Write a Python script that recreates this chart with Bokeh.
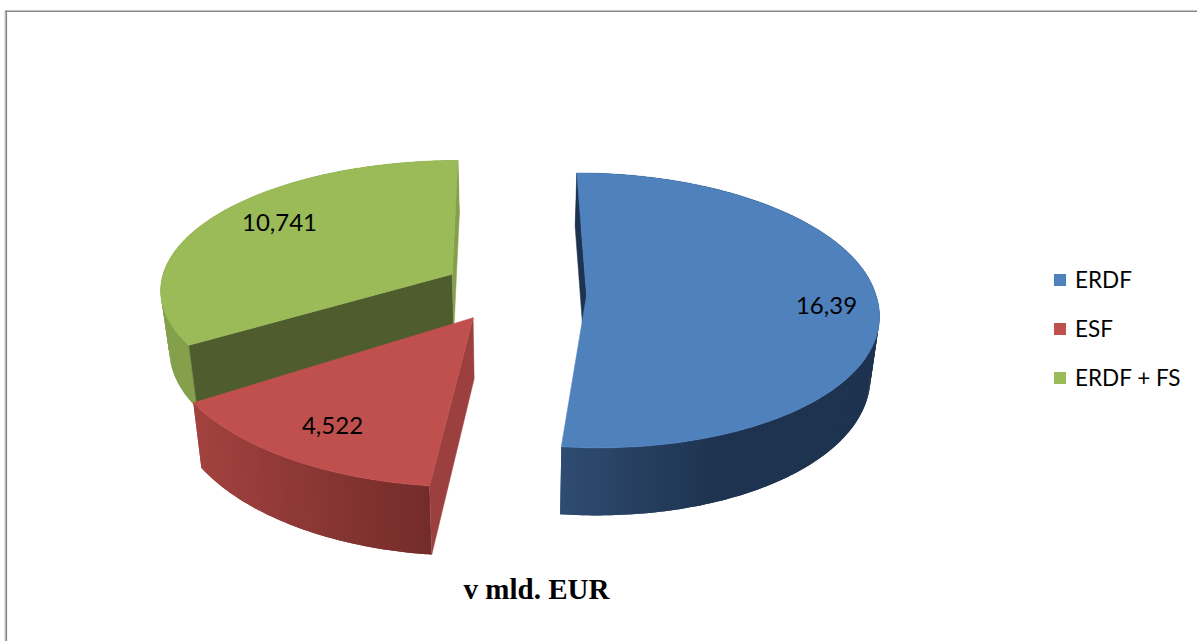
import numpy as np
from bokeh.plotting import figure
from bokeh.models import Range1d, Legend, LegendItem
from bokeh.core.properties import value
from bokeh.embed import file_html
from bokeh.resources import INLINE

# ---- data ----
categories = ["ERDF", "ESF", "ERDF + FS"]
values = [16.39, 4.522, 10.741]
value_labels = ["16,39", "4,522", "10,741"]
title_text = "v mld. EUR"

# ---- styling ----
top_colors = ["#4f81bd", "#c0504d", "#9bbb59"]
rim_left = [(47, 76, 114), (162, 66, 63), (132, 160, 75)]
rim_right = [(30, 51, 79), (115, 44, 42), (132, 160, 75)]
rim_span = [(560, 720), (195, 430), (160, 200)]
start_wall = ["#1e334f", "#9b403e", "#4f5d2e"]
end_wall = [None, None, "#84a04b"]

# projection
CX, CY, R, TILT, K, H = 514.0, 292.0, 295.0, 0.459, 0.11, 60.0
CONVERGE = 0.025
EXPLODE = 0.234
DV = [0.0, 0.03, 0.055]
OFF_X = [0, -4, -3]
OFF_Y = [1, 2, 4]
SCALE_X = [0.99, 1.025, 0.998]
SCALE_Y = [1.0, 1.07, 0.965]
FRONT_SHEAR = [0.04, 0.0, 0.0]
APEX_NUDGE = [3, 0, 0]
label_x = [826, 332, 279]
label_y = [305, 425, 222]


total = sum(values)
fracs = np.array(values) / total
ends = np.cumsum(fracs) * 2 * np.pi
starts = ends - fracs * 2 * np.pi

p = figure(width=1197, height=641, x_range=Range1d(0, 1197), y_range=Range1d(641, 0),
           toolbar_location=None, output_backend="svg", min_border=0,
           outline_line_color=None, background_fill_color="white", border_fill_color="white")
p.styles = {"position": "absolute", "left": "0px", "top": "0px"}
p.xaxis.visible = False
p.yaxis.visible = False
p.grid.visible = False

# chart border
p.segment([4.5], [10], [4.5], [641], line_color="#cfcfcf", line_width=1)
p.segment([5.8], [10], [5.8], [641], line_color="#868686", line_width=1.6)
p.segment([5], [10.8], [1197], [10.8], line_color="#868686", line_width=1.6)

top_renderers = {}
for i in [2, 1, 0]:
    a0, a1 = starts[i], ends[i]
    mid = (a0 + a1) / 2
    au = EXPLODE * np.sin(mid)
    av = EXPLODE * np.cos(mid) + DV[i]
    ang = np.linspace(a0, a1, int(np.degrees(a1 - a0)) + 2)
    ou, ov = au + np.sin(ang), av + np.cos(ang)

    s0 = 1.0 / (1.0 + K * av)
    ax0 = CX + R * au * s0
    ay0 = CY - R * TILT * av * s0

    def proj(u, v, z=0.0):
        u, v = np.asarray(u, float), np.asarray(v, float)
        s = 1.0 / (1.0 + K * v)
        x = CX + R * u * s
        y = CY - R * TILT * v * s
        x = ax0 + (x - ax0) * SCALE_X[i]
        y = ay0 + (y - ay0) * SCALE_Y[i]
        x = x + FRONT_SHEAR[i] * np.maximum(y - ay0, 0) + OFF_X[i]
        x = CX + (x - CX) * (1 - CONVERGE * z)
        return x, y + OFF_Y[i] + z * H * s

    # outer rim with a horizontal shade: overlapping bands leave no seams
    tx, ty = proj(ou, ov, 0)
    bx, by = proj(ou, ov, 1)
    lo, hi = rim_span[i]
    for j in range(len(ang) - 1):
        e = min(j + 2, len(ang) - 1)
        xs = list(tx[j:e + 1]) + list(bx[j:e + 1][::-1])
        ys = list(ty[j:e + 1]) + list(by[j:e + 1][::-1])
        f = np.clip((tx[j] - lo) / (hi - lo), 0, 1)
        c = [int(round(rim_left[i][n] + (rim_right[i][n] - rim_left[i][n]) * f)) for n in range(3)]
        col = "#%02x%02x%02x" % tuple(c)
        p.patch(xs, ys, fill_color=col, line_color=None)

    # radial walls that face the viewer
    for a, col in ((a0, start_wall[i]), (a1, end_wall[i])):
        if col is None:
            continue
        eu, ev = au + np.sin(a), av + np.cos(a)
        x0, y0 = proj([au, eu], [av, ev], 0)
        x1, y1 = proj([eu, au], [ev, av], 1)
        x0[0] += APEX_NUDGE[i]
        x1[1] += APEX_NUDGE[i]
        p.patch(list(x0) + list(x1), list(y0) + list(y1), fill_color=col, line_color=col, line_width=0.5)

    # top face
    ax, ay = proj([au], [av], 0)
    ax = ax + APEX_NUDGE[i]
    p.patch(list(ax) + list(tx), list(ay) + list(ty), fill_color=top_colors[i], line_color=top_colors[i], line_width=0.5)
    top_renderers[i] = p.quad(left=[-20], right=[-10], top=[-20], bottom=[-10],
                              fill_color=top_colors[i], line_color=None)

# value labels
p.text(label_x, label_y, text=value_labels, text_font=value("Lato"), text_font_size="24px",
       text_color="#000000", text_align="center", text_baseline="middle")

# title
p.text([536], [588], text=[title_text], text_font=value("Liberation Serif"), text_font_style="bold",
       text_font_size="29px", text_color="#000000", text_align="center", text_baseline="middle")

legend = Legend(items=[LegendItem(label=categories[i], renderers=[top_renderers[i]]) for i in range(3)],
                location=(1052, 641 - 391), orientation="vertical", spacing=22, padding=0, margin=0,
                glyph_width=15, glyph_height=15, label_height=20, label_standoff=8,
                label_text_font="Lato", label_text_font_size="22.5px", label_text_color="#000000",
                border_line_color=None, background_fill_color=None, background_fill_alpha=0)
p.add_layout(legend, "center")

open("out.html", "w").write(file_html(p, INLINE))
